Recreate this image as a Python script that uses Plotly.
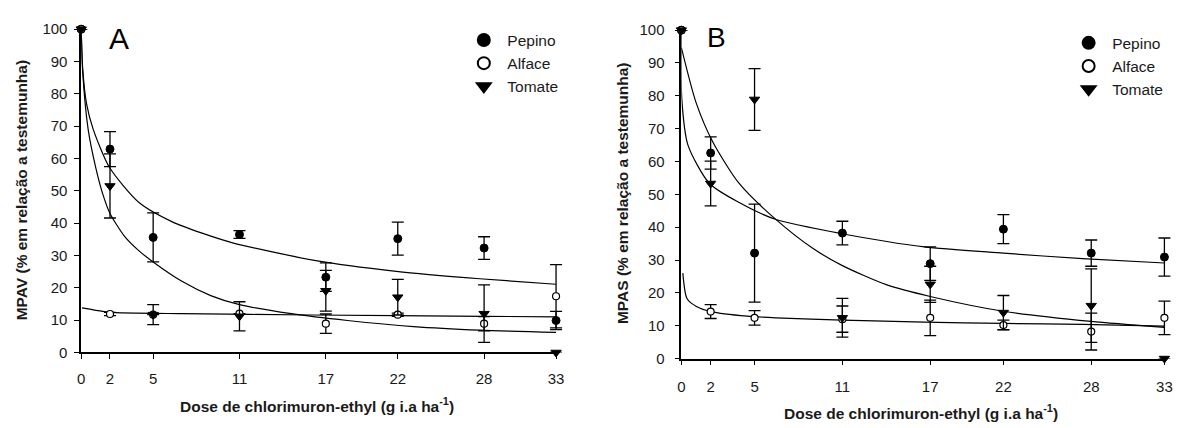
import plotly.graph_objects as go

W, H = 1184, 428

# ---------------- data ----------------
doses = [0, 2, 5, 11, 17, 22, 28, 33]
dose_ticks = [0, 2, 5, 11, 17, 22, 28, 33]
y_ticks = [0, 10, 20, 30, 40, 50, 60, 70, 80, 90, 100]
series_names = ["Pepino", "Alface", "Tomate"]

# Panel A (MPAV)
pepino_A = [100, 62.9, 35.6, 36.5, 23.3, 35.2, 32.3, 9.9]
pepino_A_err = [0, 5.4, 7.6, 1.2, 4.4, 5.1, 3.5, 2.8]
alface_A = [100, 11.9, 11.7, 12.0, 8.9, 11.7, 8.9, 17.4]
alface_A_err = [0, 0.5, 0, 0, 3.0, 0.5, 2.2, 9.8]
tomate_A = [100, 51.5, 11.7, 11.2, 19.1, 17.1, 12.0, 0]
tomate_A_err = [0, 9.9, 3.1, 4.5, 6.3, 5.5, 8.9, 0]

# Panel B (MPAS)
pepino_B = [100, 62.6, 32.1, 38.2, 28.9, 39.4, 32.1, 30.9]
pepino_B_err = [0, 4.9, 14.9, 3.6, 5.1, 4.4, 4.0, 5.8]
alface_B = [100, 14.3, 12.4, 12.0, 12.4, 10.2, 8.2, 12.4]
alface_B_err = [0, 2.1, 2.2, 4.0, 5.4, 1.5, 5.6, 5.1]
tomate_B = [100, 53.3, 78.9, 12.4, 22.6, 14.0, 16.1, 0]
tomate_B_err = [0, 6.8, 9.4, 5.9, 5.5, 5.2, 11.2, 0]

# fitted curves
fit_pepino_A_x = [0, 0.1, 0.37, 0.83, 1.97, 4.04, 6.33, 8.4, 10.46, 16.2, 21.9, 27.7, 33]
fit_pepino_A_y = [100, 88, 77.0, 69.1, 57.2, 46.3, 40.4, 36.9, 34.0, 28.5, 25.1, 22.8, 21.1]
fit_tomate_A_x = [0, 0.1, 0.48, 1.01, 1.5, 2, 3, 4, 5, 7, 9, 11, 14.6, 18.5, 23.1, 27.7, 33]
fit_tomate_A_y = [100, 87, 69.1, 57.2, 49, 43, 36, 31.5, 28, 22, 17.6, 14.8, 12.0, 9.9, 8.0, 6.9, 6.2]
fit_alface_A_x = [0.05, 1.5, 2, 7, 16, 28, 33]
fit_alface_A_y = [13.8, 12.7, 12.4, 12.0, 11.6, 11.2, 11.0]

fit_pepino_B_x = [0, 0.03, 0.45, 1.92, 3.95, 6.42, 10.98, 16.6, 22.0, 27.4, 33]
fit_pepino_B_y = [100, 79, 65.0, 53.3, 47.5, 42.4, 38.0, 34.0, 32.1, 30.4, 29.1]
fit_tomate_B_x = [0, 1, 2.14, 3.95, 6.47, 9, 11, 14, 17, 22, 28, 33]
fit_tomate_B_y = [94.7, 78, 66.0, 53.3, 42.3, 33.5, 28.3, 22.5, 18.9, 14.4, 11.3, 9.5]
fit_alface_B_x = [0.1, 0.39, 1.06, 2.03, 4.5, 6.47, 11, 16.6, 22, 27.4, 33]
fit_alface_B_y = [26, 18.2, 15.8, 14.3, 12.9, 12.4, 11.7, 11.1, 10.7, 10.4, 9.9]

# ---------------- figure ----------------
FONT = "Liberation Sans, Arial, sans-serif"
TXT = "#1a1a1a"


def px(x):
    return x / W


def py(y):
    return 1 - y / H


def errs(e):
    return [v if v > 0 else None for v in e]


marker_styles = {
    "Pepino": dict(symbol="circle", size=8, color="black", line=dict(color="black", width=1)),
    "Alface": dict(symbol="circle", size=7, color="white", line=dict(color="black", width=1.2)),
    "Tomate": dict(symbol="triangle-down", size=9, color="black", line=dict(color="black", width=1)),
}

fig = go.Figure()

# (fit x-axis, marker x-axis, y-axis, legend)
panels = [
    ("x", "x3", "y", "legend",
     [(fit_pepino_A_x, fit_pepino_A_y), (fit_tomate_A_x, fit_tomate_A_y), (fit_alface_A_x, fit_alface_A_y)],
     [(pepino_A, pepino_A_err), (alface_A, alface_A_err), (tomate_A, tomate_A_err)]),
    ("x2", "x4", "y2", "legend2",
     [(fit_pepino_B_x, fit_pepino_B_y), (fit_tomate_B_x, fit_tomate_B_y), (fit_alface_B_x, fit_alface_B_y)],
     [(pepino_B, pepino_B_err), (alface_B, alface_B_err), (tomate_B, tomate_B_err)]),
]

for xa, xm, ya, leg, fits, data in panels:
    for fx, fy in fits:
        fig.add_trace(go.Scatter(
            x=fx, y=fy, mode="lines", xaxis=xa, yaxis=ya,
            line=dict(color="black", width=1.2, shape="spline", smoothing=0.7),
            showlegend=False, hoverinfo="skip"))
    for name, (vals, err) in zip(series_names, data):
        fig.add_trace(go.Scatter(
            x=doses, y=vals, mode="markers", name=name, xaxis=xm, yaxis=ya,
            legend=leg, marker=marker_styles[name], cliponaxis=False,
            error_y=dict(type="data", array=errs(err), visible=True,
                         color="black", thickness=1.3, width=6)))

axis_common = dict(
    showgrid=False, zeroline=False, showline=True, linecolor="black", linewidth=1.6,
    ticks="outside", ticklen=5, tickwidth=1.3, tickcolor="black",
    tickfont=dict(family=FONT, size=15, color=TXT), mirror=False,
)

legend_common = dict(xanchor="left", yanchor="top",
                     font=dict(family=FONT, size=15.5, color=TXT), bgcolor="rgba(0,0,0,0)",
                     tracegroupgap=0, itemsizing="constant", itemwidth=37)

# panel pixel geometry
A_x0, A_x1, A_y0, A_y1 = 78, 557.7, 357.7, 21
B_x0, B_x1, B_y0, B_y1 = 684.3, 1172.3, 364, 22
XMAX, XPAD = 33, 0.7
A_ext = A_x1 + XPAD * (A_x1 - A_x0) / XMAX
B_ext = B_x1 + XPAD * (B_x1 - B_x0) / XMAX

fig.update_layout(
    width=W, height=H, margin=dict(l=0, r=0, t=0, b=0),
    paper_bgcolor="white", plot_bgcolor="rgba(0,0,0,0)",
    font=dict(family=FONT, size=15, color=TXT),
    xaxis=dict(domain=[px(A_x0), px(A_x1)], range=[0, XMAX], tickvals=dose_ticks,
               anchor="y", ticklabelstandoff=7, **axis_common),
    yaxis=dict(domain=[py(A_y0), py(A_y1)], range=[0, 100], tickvals=y_ticks,
               anchor="x", ticklabelstandoff=4, **axis_common),
    xaxis2=dict(domain=[px(B_x0), px(B_x1)], range=[0, XMAX], tickvals=dose_ticks,
                anchor="y2", ticklabelstandoff=9, **axis_common),
    yaxis2=dict(domain=[py(B_y0), py(B_y1)], range=[0, 100], tickvals=y_ticks,
                anchor="x2", ticklabelstandoff=7, **axis_common),
    xaxis3=dict(domain=[px(A_x0), px(A_ext)], range=[0, XMAX + XPAD], anchor="y",
                visible=False, showgrid=False, zeroline=False),
    xaxis4=dict(domain=[px(B_x0), px(B_ext)], range=[0, XMAX + XPAD], anchor="y2",
                visible=False, showgrid=False, zeroline=False),
    legend=dict(x=px(461), y=py(15), **legend_common),
    legend2=dict(x=px(1072), y=py(18), **legend_common),
    annotations=[
        dict(text="A", x=px(116), y=py(31), xref="paper", yref="paper", showarrow=False,
             xanchor="center", yanchor="middle",
             font=dict(family=FONT, size=30, color="black")),
        dict(text="B", x=px(720), y=py(30), xref="paper", yref="paper", showarrow=False,
             xanchor="center", yanchor="middle",
             font=dict(family=FONT, size=28, color="black")),
        dict(text="<b>MPAV (% em relação a testemunha)</b>", x=px(18), y=py(189),
             xref="paper", yref="paper", showarrow=False, textangle=-90,
             xanchor="center", yanchor="middle",
             font=dict(family=FONT, size=15.5, color=TXT)),
        dict(text="<b>MPAS (% em relação a testemunha)</b>", x=px(625), y=py(192),
             xref="paper", yref="paper", showarrow=False, textangle=-90,
             xanchor="center", yanchor="middle",
             font=dict(family=FONT, size=15.5, color=TXT)),
        dict(text="<b>Dose de chlorimuron-ethyl (g i.a ha<sup>-1</sup>)</b>", x=px(316), y=py(412),
             xref="paper", yref="paper", showarrow=False,
             xanchor="center", yanchor="middle",
             font=dict(family=FONT, size=15.5, color=TXT)),
        dict(text="<b>Dose de chlorimuron-ethyl (g i.a ha<sup>-1</sup>)</b>", x=px(926.5), y=py(420),
             xref="paper", yref="paper", showarrow=False,
             xanchor="center", yanchor="middle",
             font=dict(family=FONT, size=15.5, color=TXT)),
    ],
)

fig.write_html("out.html")
